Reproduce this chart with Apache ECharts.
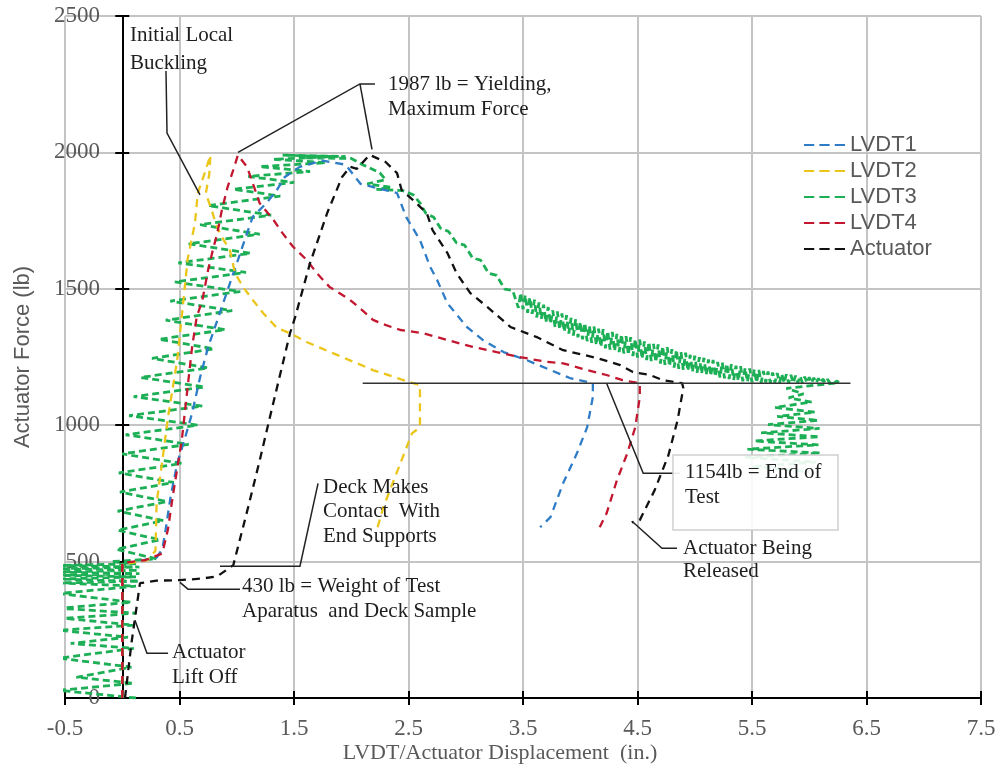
<!DOCTYPE html>
<html><head><meta charset="utf-8">
<script src="https://cdn.jsdelivr.net/npm/echarts@6/dist/echarts.min.js"></script>
<style>html,body{margin:0;padding:0;background:#fff}#c{width:997px;height:771px}</style>
</head><body><div id="c"></div>
<script>
// ---------- DATA ----------
const xTicks = [-0.5, 0.5, 1.5, 2.5, 3.5, 4.5, 5.5, 6.5, 7.5];
const yTicks = [0, 500, 1000, 1500, 2000, 2500];
const seriesNames = ['LVDT1', 'LVDT2', 'LVDT3', 'LVDT4', 'Actuator'];

const lvdt1 = [[0,0],[0,490],[0.30,515],[0.35,545],[0.38,620],[0.42,732],[0.48,860],[0.55,956],[0.61,1044],[0.68,1176],[0.75,1286],[0.84,1396],[0.92,1495],[1.01,1605],[1.09,1704],[1.14,1764],[1.26,1814],[1.35,1862],[1.42,1910],[1.55,1947],[1.75,1970],[1.95,1955],[2.08,1885],[2.20,1872],[2.40,1851],[2.48,1763],[2.60,1679],[2.69,1580],[2.75,1532],[2.84,1447],[3.01,1360],[3.15,1312],[3.33,1268],[3.53,1239],[3.74,1202],[3.91,1173],[4.11,1154],[4.11,1103],[4.06,992],[3.97,896],[3.85,787],[3.74,663],[3.65,626]];

const lvdt2 = [[0,0],[0,490],[0.22,505],[0.29,540],[0.30,714],[0.35,870],[0.40,1030],[0.48,1239],[0.52,1400],[0.55,1521],[0.57,1606],[0.635,1741],[0.66,1851],[0.72,1924],[0.77,1990],[0.76,1920],[0.73,1850],[0.78,1790],[0.82,1735],[0.87,1690],[0.94,1642],[0.985,1557],[1.055,1507],[1.14,1459],[1.23,1411],[1.35,1357],[1.465,1337],[1.61,1305],[1.84,1264],[2.05,1227],[2.19,1202],[2.40,1173],[2.51,1158],[2.60,1147],[2.60,992],[2.53,970],[2.28,699],[2.23,626]];

const lvdt3 = [
 [0.12,0],[-0.55,28],[0.10,54],[-0.40,76],[0.08,113],[-0.55,146],[0.10,182],[-0.45,200],[0.05,223],[-0.55,248],[0.10,267],[-0.50,292],[0.12,311],[-0.55,329],[0.08,351],[-0.55,383],[0.12,410],[-0.55,422],
 [0.15,428],[-0.55,436],[0.12,444],[-0.55,450],[0.15,456],[-0.55,462],[0.14,468],[-0.55,474],[0.15,480],[-0.55,486],[0.12,492],[-0.10,500],
 [0.30,510],[-0.05,545],[0.33,580],[-0.04,615],[0.36,650],[-0.04,685],[0.39,720],[-0.02,755],[0.45,790],[-0.03,825],[0.52,860],[0.0,895],[0.58,930],[0.03,965],[0.66,1000],[0.06,1035],[0.70,1070],[0.10,1105],[0.72,1140],[0.16,1175],[0.75,1210],[0.26,1245],[0.80,1280],[0.32,1315],[0.90,1350],[0.38,1385],[0.96,1420],[0.42,1455],[1.03,1490],[0.46,1525],[1.08,1560],[0.49,1595],[1.12,1630],[0.58,1665],[1.20,1700],[0.68,1735],[1.30,1770],[0.75,1805],[1.38,1840],[0.97,1865],[1.50,1890],[1.10,1912],[1.64,1930],[1.20,1948],[1.78,1962],[1.32,1975],[1.88,1985],[1.40,1990],
 [1.95,1985],[1.55,1980],[2.00,1978],[2.10,1955],[2.25,1925],[2.30,1900],[2.14,1885],[2.35,1872],[2.22,1865],[2.45,1860],[2.54,1845],
 [2.60,1815],[2.65,1778],[2.72,1762],[2.78,1722],[2.85,1710],[2.92,1668],[2.99,1660],[3.06,1613],[3.13,1605],[3.20,1557],[3.27,1549],[3.34,1499],[3.41,1494],
 [3.46,1430],[3.48,1485],[3.50,1425],[3.52,1477],[3.54,1412],[3.56,1468],[3.58,1408],[3.60,1460],[3.62,1395],[3.64,1450],[3.66,1390],[3.68,1442],[3.70,1377],[3.72,1433],[3.74,1372],[3.76,1421],[3.78,1359],[3.80,1417],[3.82,1351],[3.84,1410],[3.86,1343],[3.88,1403],[3.90,1336],[3.92,1393],[3.94,1329],[3.96,1389],[3.98,1322],[4.00,1379],
 [4.02,1315],[4.04,1375],[4.06,1308],[4.08,1365],[4.10,1302],[4.12,1362],[4.14,1294],[4.16,1354],[4.18,1287],[4.20,1352],[4.22,1282],[4.24,1345],[4.26,1277],[4.28,1342],[4.30,1272],[4.32,1335],[4.34,1268],[4.36,1333],[4.38,1263],[4.40,1326],[4.42,1258],[4.44,1323],[4.46,1253],[4.48,1316],[4.50,1248],
 [4.52,1314],[4.54,1243],[4.56,1307],[4.58,1239],[4.60,1305],[4.62,1235],[4.64,1298],[4.66,1231],[4.68,1296],[4.70,1226],[4.72,1289],[4.74,1221],[4.76,1286],[4.78,1216],[4.80,1279],[4.82,1211],[4.84,1276],[4.86,1207],[4.88,1268],[4.90,1203],[4.92,1266],[4.94,1199],[4.96,1258],[4.98,1195],[5.00,1255],
 [5.02,1192],[5.04,1249],[5.06,1189],[5.08,1247],[5.10,1185],[5.12,1241],[5.14,1181],[5.16,1239],[5.18,1178],[5.20,1232],[5.22,1175],[5.24,1230],[5.26,1172],[5.28,1225],[5.30,1169],[5.32,1224],[5.34,1166],[5.36,1218],[5.38,1163],[5.40,1216],[5.42,1161],[5.44,1210],[5.46,1159],[5.48,1208],[5.50,1157],
 [5.52,1204],[5.54,1156],[5.56,1202],[5.58,1156],[5.60,1199],[5.62,1157],[5.64,1197],[5.66,1156],[5.68,1193],[5.70,1156],[5.72,1191],[5.74,1155],[5.76,1188],[5.78,1155],[5.80,1186],[5.82,1155],[5.84,1184],[5.86,1155],[5.88,1182],[5.90,1155],[5.92,1180],[5.94,1155],[5.96,1178],[5.98,1155],[6.00,1176],
 [6.02,1155],[6.04,1174],[6.06,1155],[6.08,1172],[6.10,1155],[6.12,1170],[6.14,1155],[6.16,1168],[6.18,1155],[6.20,1165],[6.22,1155],[6.24,1162],[6.26,1156],
 [5.80,1135],[5.95,1115],[5.82,1100],[6.02,1085],[5.70,1065],[6.05,1048],[5.72,1032],[6.08,1018],[5.64,1002],[6.09,988],[5.58,972],[6.09,958],[5.52,942],[6.08,928],[5.46,912],[6.10,898],[5.44,882],[6.06,865],[5.50,848],[6.00,830]
];

const lvdt4 = [[0,0],[0,495],[0.20,505],[0.35,530],[0.40,620],[0.44,736],[0.52,945],[0.565,1117],[0.61,1286],[0.65,1396],[0.70,1459],[0.75,1569],[0.79,1640],[0.83,1704],[0.87,1789],[0.92,1873],[0.97,1936],[1.01,1990],[1.09,1947],[1.14,1887],[1.20,1814],[1.32,1753],[1.40,1704],[1.49,1655],[1.61,1606],[1.70,1557],[1.81,1507],[1.99,1459],[2.10,1420],[2.19,1386],[2.28,1370],[2.43,1349],[2.63,1337],[2.84,1312],[3.06,1287],[3.27,1268],[3.47,1250],[3.71,1232],[3.85,1227],[4.06,1202],[4.23,1184],[4.37,1165],[4.52,1154],[4.52,1103],[4.48,992],[4.41,896],[4.32,798],[4.23,677],[4.17,626]];

const actuator = [[0.024,0],[0.08,200],[0.155,421],[0.30,430],[0.504,432],[0.70,438],[0.83,446],[0.97,487],[1.10,700],[1.20,870],[1.29,1030],[1.465,1337],[1.51,1396],[1.64,1594],[1.79,1778],[1.92,1910],[1.99,1947],[2.05,1940],[2.16,1991],[2.30,1965],[2.40,1924],[2.44,1862],[2.54,1825],[2.66,1777],[2.71,1715],[2.84,1631],[2.92,1557],[3.04,1484],[3.19,1433],[3.39,1360],[3.62,1323],[3.85,1275],[4.15,1246],[4.35,1220],[4.46,1195],[4.61,1184],[4.72,1165],[4.89,1154],[4.90,1136],[4.85,1018],[4.77,890],[4.65,762],[4.52,652],[4.45,644]];

const endOfTestLine = [[2.10,1154],[6.36,1154]];

// leader lines (data coordinates)
const leaders = [
  [[0.382,2298],[0.391,2071],[0.679,1844]],
  [[2.207,2251],[2.076,2251],[1.011,2000]],
  [[2.076,2251],[2.181,2011]],
  [[1.71,787],[1.552,483],[0.854,483]],
  [[1.028,399],[0.574,399],[0.504,424]],
  [[0.40,164],[0.216,164],[0.111,285]],
  [[4.87,824],[4.55,824],[4.23,1154]],
  [[4.845,549],[4.714,549],[4.452,648]]
];

const notes = [
  {text:'Initial Local\nBuckling', x:130, y:21, lh:28},
  {text:'1987 lb = Yielding,\nMaximum Force', x:388, y:72, lh:25},
  {text:'Deck Makes\nContact  With\nEnd Supports', x:323, y:475, lh:24.5},
  {text:'430 lb = Weight of Test\nAparatus  and Deck Sample', x:242, y:574, lh:25},
  {text:'Actuator\nLift Off', x:172, y:640, lh:25},
  {text:'1154lb = End of\nTest', x:685, y:460, lh:25},
  {text:'Actuator Being\nReleased', x:683, y:537, lh:23}
];

// ---------- CHART ----------
const colors = {LVDT1:'#2E7CC6', LVDT2:'#EBC51A', LVDT3:'#1DAF55', LVDT4:'#C2172F', Actuator:'#111111'};
const dataMap = {LVDT1:lvdt1, LVDT2:lvdt2, LVDT3:lvdt3, LVDT4:lvdt4, Actuator:actuator};
const drawOrder = ['LVDT3','LVDT1','LVDT2','LVDT4','Actuator'];

const serif = '"Liberation Serif", "Times New Roman", serif';
const sans = '"Liberation Sans", Arial, sans-serif';

const grid = {left:65, top:16, width:916, height:682, containLabel:false, outerBoundsMode:'none'};

const xBase = {type:'value', min:xTicks[0], max:xTicks[xTicks.length-1], interval:1, position:'bottom'};
const yBase = {type:'value', min:yTicks[0], max:yTicks[yTicks.length-1], interval:500, position:'left'};

const series = drawOrder.map(n => ({
  name:n, type:'line', data:dataMap[n], showSymbol:false, symbol:'none',
  xAxisIndex:0, yAxisIndex:0, animation:false, clip:true,
  lineStyle:{color:colors[n], width: n==='LVDT3'?2.8:2.3, type: n==='LVDT3'?[7,4]:[8,6]},
  itemStyle:{color:colors[n]}
}));
series.push({name:'end', type:'line', data:endOfTestLine, showSymbol:false, symbol:'none', animation:false,
  lineStyle:{color:'#333', width:1.5, type:'solid'}, z:3});

const dashIcon = 'path://M0 0H10V2H0Z M15 0H25V2H15Z M30 0H40V2H30Z';

const option = {
  backgroundColor:'#fff',
  animation:false,
  grid: grid,
  legend: {
    data: seriesNames.map(n => ({name:n, icon:dashIcon})), orient:'vertical', left:804, top:134, padding:0,
    itemWidth:41, itemHeight:2.5, itemGap:4,
    textStyle:{fontFamily:sans, fontSize:22, color:'#595959', lineHeight:22}
  },
  xAxis: [
    Object.assign({}, xBase, {
      axisLine:{onZero:false, lineStyle:{color:'#000', width:2}},
      axisTick:{show:true, inside:false, length:7, lineStyle:{color:'#000', width:2}, customValues:xTicks},
      axisLabel:{color:'#595959', fontFamily:serif, fontSize:23, margin:19, customValues:xTicks, formatter:v=>String(v)},
      splitLine:{show:true, lineStyle:{color:'#c4c4c4', width:2}}
    }),
    Object.assign({}, xBase, {
      axisLine:{onZero:false, lineStyle:{color:'#000', width:2}},
      axisTick:{show:true, inside:true, length:7, lineStyle:{color:'#000', width:2}, customValues:xTicks},
      axisLabel:{show:false}, splitLine:{show:false}
    })
  ],
  yAxis: [
    Object.assign({}, yBase, {
      axisLine:{show:false, onZero:false},
      axisTick:{show:false},
      axisLabel:{color:'#595959', fontFamily:serif, fontSize:23, margin:-35, align:'right', formatter:v=>String(v)},
      splitLine:{show:true, lineStyle:{color:'#c4c4c4', width:2}}
    }),
    Object.assign({}, yBase, {
      axisLine:{show:true, onZero:true, lineStyle:{color:'#000', width:2}},
      axisTick:{show:true, inside:false, length:7, lineStyle:{color:'#000', width:2}},
      axisLabel:{show:false}, splitLine:{show:false}
    }),
    Object.assign({}, yBase, {
      axisLine:{show:true, onZero:true, lineStyle:{color:'#000', width:2}},
      axisTick:{show:true, inside:true, length:7, lineStyle:{color:'#000', width:2}},
      axisLabel:{show:false}, splitLine:{show:false}
    })
  ],
  series: series
};

const chart = echarts.init(document.getElementById('c'), null, {renderer:'canvas'});
chart.setOption(option);

const P = p => chart.convertToPixel({xAxisIndex:0, yAxisIndex:0}, p);
const graphics = [];
leaders.forEach(l => graphics.push({type:'polyline', z:50, shape:{points:l.map(P)}, style:{stroke:'#222', lineWidth:1.5, fill:null}}));
graphics.push({type:'rect', z:60, shape:{x:673, y:455, width:165, height:75}, style:{fill:'rgba(255,255,255,0.9)', stroke:'#cfcfcf', lineWidth:1.5}});
notes.forEach(n => graphics.push({type:'text', z:70, x:n.x, y:n.y,
  style:{text:n.text, font:'21px ' + serif, fill:'#1e1e1e', lineHeight:n.lh, textAlign:'left', textVerticalAlign:'top'}}));
graphics.push({type:'text', z:70, x:500, y:742, style:{text:'LVDT/Actuator Displacement  (in.)', font:'22px ' + serif, fill:'#595959', textAlign:'center', textVerticalAlign:'top'}});
graphics.push({type:'text', z:70, x:23, y:357, rotation:Math.PI/2, style:{text:'Actuator Force (lb)', font:'22px ' + sans, fill:'#595959', textAlign:'center', textVerticalAlign:'middle'}});
chart.setOption({graphic: graphics});
</script>
</body></html>
